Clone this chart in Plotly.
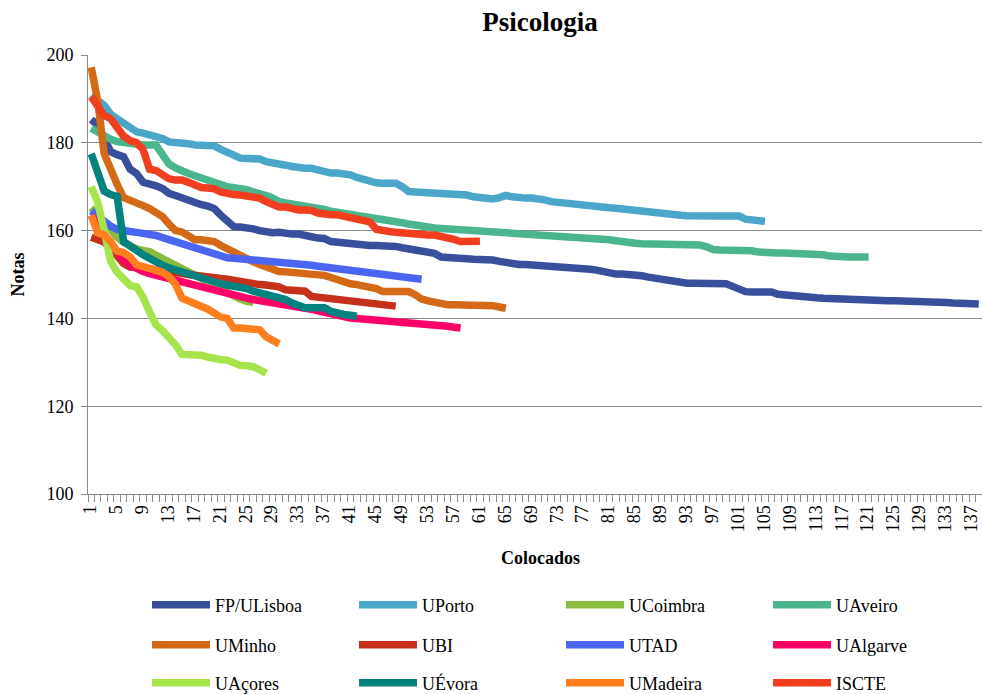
import plotly.graph_objects as go

FONT = "Liberation Serif"

series_names = ["FP/ULisboa", "UPorto", "UCoimbra", "UAveiro",
                "UMinho", "UBI", "UTAD", "UAlgarve",
                "UAçores", "UÉvora", "UMadeira", "ISCTE"]

series_colors = ["#3A4F9C", "#4BA7C9", "#88BB3E", "#4BB68D",
                 "#D46A17", "#C6311B", "#4A66F0", "#FF0068",
                 "#A6E44C", "#00827F", "#FF7F1E", "#F03E1E"]

fp_ulisboa = [185.3, 184.0, 181.0, 178.0, 177.3, 176.8, 174.0, 173.0, 171.0, 170.7,
              170.2, 169.6, 168.5, 168.0, 167.4, 166.7, 166.2, 165.9, 165.6, 165.0,
              163.5, 162.2, 160.9, 160.8, 160.8, 160.4, 160.0, 159.7, 159.5, 159.6,
              159.3, 159.2, 159.2, 159.1, 158.6, 158.3, 158.2, 157.5, 157.3, 157.2,
              157.1, 157.0, 156.8, 156.6, 156.6, 156.6, 156.5, 156.4, 156.1, 155.9,
              155.7, 155.5, 155.2, 154.8, 154.0, 153.8, 153.7, 153.6, 153.6, 153.5,
              153.5, 153.4, 153.3, 153.0, 152.7, 152.4, 152.3, 152.3, 152.2, 152.2,
              152.2, 152.1, 152.0, 151.9, 151.8, 151.8, 151.7, 151.2, 151.0, 150.7,
              150.1, 150.1, 150.1, 150.1, 150.0, 149.7, 149.4, 149.1, 148.9, 148.6,
              148.4, 148.2, 148.0, 148.0, 148.0, 148.0, 148.0, 148.0, 147.9, 147.3,
              146.7, 146.1, 146.0, 146.0, 146.0, 146.0, 145.5, 145.3, 145.3, 145.3,
              145.1, 144.9, 144.7, 144.6, 144.5, 144.5, 144.4, 144.3, 144.3, 144.2,
              144.2, 144.1, 144.1, 144.0, 144.0, 144.0, 143.9, 143.9, 143.9, 143.8,
              143.8, 143.7, 143.6, 143.5, 143.4, 143.3, 143.3, 143.3]

uporto = [190.8, 189.8, 188.5, 186.5, 185.5, 184.8, 183.5, 182.5, 182.2, 181.8,
          181.7, 181.0, 180.2, 180.2, 180.2, 179.8, 179.5, 179.5, 179.5, 179.3,
          178.5, 178.0, 177.2, 176.5, 176.5, 176.5, 176.3, 175.7, 175.3, 175.2,
          174.9, 174.6, 174.3, 174.2, 174.2, 173.8, 173.4, 173.1, 173.1, 173.1,
          172.7, 172.1, 171.6, 171.3, 170.9, 170.8, 170.8, 170.8, 170.0, 168.9,
          168.8, 168.7, 168.6, 168.6, 168.6, 168.6, 168.6, 168.5, 168.1, 167.7,
          167.5, 167.3, 167.2, 167.5, 168.0, 167.7, 167.4, 167.4, 167.4, 167.4,
          167.0, 166.6, 166.4, 166.3, 166.1, 166.0, 165.8, 165.7, 165.5, 165.4,
          165.2, 165.1, 164.9, 164.8, 164.6, 164.5, 164.3, 164.2, 164.0, 163.9,
          163.7, 163.5, 163.4, 163.3, 163.3, 163.3, 163.3, 163.3, 163.3, 163.3,
          163.3, 162.6, 162.4, 162.5, 162.1]

ucoimbra = [165.2, 163.5, 161.5, 160.0, 158.5, 157.3, 156.4, 155.8, 155.5, 155.2,
            154.4, 153.7, 153.0, 152.3, 151.6, 150.8, 150.0, 149.1, 148.2, 147.4,
            146.5, 145.7, 145.0, 144.4, 143.9, 143.7]

uaveiro = [183.3, 182.3, 181.3, 180.8, 180.3, 180.0, 179.8, 179.5, 179.5, 179.5,
           179.5, 177.3, 175.2, 174.3, 173.5, 173.0, 172.5, 172.1, 171.6, 171.1,
           170.5, 170.0, 169.8, 169.7, 169.3, 168.8, 168.6, 168.0, 167.4, 166.6,
           166.3, 166.1, 165.9, 165.6, 165.4, 165.1, 164.8, 164.4, 164.2, 164.0,
           163.8, 163.6, 163.4, 163.2, 162.9, 162.6, 162.3, 162.0, 161.8, 161.5,
           161.2, 161.0, 160.8, 160.6, 160.5, 160.4, 160.3, 160.2, 160.1, 160.0,
           159.9, 159.8, 159.8, 159.7, 159.6, 159.6, 159.5, 159.5, 159.4, 159.4,
           159.3, 159.2, 159.1, 159.0, 158.9, 158.8, 158.7, 158.6, 158.4, 158.2,
           157.9, 157.7, 157.4, 157.2, 157.1, 157.0, 157.0, 157.0, 156.9, 156.9,
           156.9, 156.8, 156.8, 156.7, 156.7, 156.3, 155.7, 155.6, 155.6, 155.6,
           155.6, 155.6, 155.4, 155.1, 154.9, 154.9, 154.9, 154.9, 154.9, 154.9,
           154.9, 154.9, 154.7, 154.5, 154.2, 154.0, 154.0, 154.0, 154.0, 154.0,
           154.0]

uminho = [197.2, 189.5, 177.5, 173.5, 170.5, 167.5, 167.0, 166.3, 165.7, 165.0,
          164.3, 163.2, 161.5, 160.0, 159.7, 159.0, 157.9, 157.9, 157.9, 157.5,
          156.6, 155.8, 155.1, 154.4, 153.6, 152.9, 152.3, 151.7, 151.2, 150.7,
          150.6, 150.5, 150.3, 150.1, 150.0, 150.0, 149.8, 149.3, 148.7, 148.2,
          147.9, 147.7, 147.5, 147.3, 146.8, 146.1, 146.1, 146.1, 146.1, 146.1,
          145.4, 144.4, 144.0, 143.6, 143.1, 143.1, 143.1, 143.1, 143.1, 143.1,
          143.1, 143.1, 142.9, 142.6, 142.3]

ubi = [158.5, 158.0, 157.4, 156.0, 154.2, 152.5, 151.7, 151.7, 151.6, 151.3,
       151.0, 150.7, 150.5, 150.3, 150.2, 150.0, 149.9, 149.7, 149.5, 149.3,
       149.1, 148.9, 148.6, 148.4, 148.1, 147.9, 147.7, 147.6, 147.6, 147.2,
       146.5, 146.5, 146.5, 146.2, 145.0, 144.8, 144.7, 144.6, 144.4, 144.2,
       144.0, 143.8, 143.6, 143.4, 143.2, 143.0, 142.9, 142.8]

utad = [164.5, 163.2, 162.0, 161.0, 160.3, 159.9, 159.8, 159.6, 159.5, 159.3,
        158.9, 158.4, 157.9, 157.5, 157.2, 156.7, 156.2, 155.6, 155.0, 154.5,
        154.1, 153.8, 153.7, 153.6, 153.5, 153.4, 153.2, 153.0, 152.9, 152.8,
        152.7, 152.6, 152.5, 152.3, 152.1, 151.9, 151.7, 151.5, 151.2, 151.0,
        150.8, 150.5, 150.3, 150.1, 149.9, 149.7, 149.5, 149.4, 149.3, 149.1,
        149.0, 148.9]

ualgarve = [163.5, 161.0, 159.0, 157.0, 155.0, 153.5, 152.2, 151.3, 150.7, 150.2,
            149.8, 149.4, 149.0, 148.8, 148.5, 148.2, 147.8, 147.3, 146.9, 146.4,
            145.8, 145.4, 145.1, 144.9, 144.6, 144.3, 144.1, 143.8, 143.5, 143.2,
            143.1, 143.1, 142.9, 142.5, 142.1, 141.7, 141.4, 141.0, 140.4, 140.2,
            140.1, 140.0, 139.9, 139.8, 139.7, 139.6, 139.4, 139.3, 139.2, 139.0,
            138.9, 138.8, 138.7, 138.5, 138.4, 138.2, 138.0, 137.8]

uacores = [170.0, 166.5, 160.0, 153.0, 150.5, 148.7, 147.5, 147.2, 144.8, 141.5,
           138.5, 137.2, 135.8, 134.0, 131.8, 131.8, 131.8, 131.6, 131.2, 130.8,
           130.6, 130.5, 129.9, 129.3, 129.2, 129.0, 128.3, 127.5]

uevora = [177.5, 173.5, 169.0, 168.2, 167.8, 157.5, 156.3, 155.5, 154.5, 153.6,
          152.8, 152.1, 151.5, 151.0, 150.6, 150.2, 149.6, 149.1, 148.6, 148.2,
          147.9, 147.6, 147.4, 147.2, 146.8, 146.2, 145.9, 145.6, 145.3, 144.9,
          144.3, 143.5, 142.8, 142.4, 142.4, 142.4, 142.4, 141.6, 141.1, 140.9,
          140.7, 140.5]

umadeira = [163.5, 159.5, 159.0, 157.5, 155.3, 155.0, 154.0, 152.2, 151.8, 151.5,
            151.0, 150.5, 149.5, 147.8, 144.6, 144.0, 143.5, 142.8, 142.1, 141.2,
            140.3, 140.0, 137.8, 137.8, 137.8, 137.8, 137.4, 135.8, 134.8, 134.2]

iscte = [190.5, 188.0, 186.2, 185.5, 183.8, 181.5, 180.5, 180.0, 178.5, 174.0,
         173.7, 172.8, 171.8, 171.5, 171.5, 171.0, 170.2, 169.8, 169.7, 169.5,
         168.8, 168.3, 168.2, 168.1, 168.0, 167.7, 167.4, 166.6, 166.0, 165.4,
         165.4, 165.0, 164.7, 164.7, 164.6, 164.0, 163.6, 163.6, 163.6, 163.3,
         163.0, 162.9, 162.7, 162.0, 160.3, 159.9, 159.8, 159.6, 159.4, 159.2,
         159.0, 159.0, 159.0, 159.0, 158.8, 158.4, 158.0, 157.5, 157.5, 157.6,
         157.6]

series_values = [fp_ulisboa, uporto, ucoimbra, uaveiro,
                 uminho, ubi, utad, ualgarve,
                 uacores, uevora, umadeira, iscte]

x_tick_values = [1, 5, 9, 13, 17, 21, 25, 29, 33, 37, 41, 45, 49, 53, 57, 61, 65,
                 69, 73, 77, 81, 85, 89, 93, 97, 101, 105, 109, 113, 117, 121, 125,
                 129, 133, 137]
x_tick_labels = ["1", "5", "9", "13", "17", "21", "25", "29", "33", "37", "41", "45",
                 "49", "53", "57", "61", "65", "69", "73", "77", "81", "85", "89",
                 "93", "97", "101", "105", "109", "113", "117", "121", "125", "129",
                 "133", "137"]
n_categories = 138

y_tick_values = [100, 120, 140, 160, 180, 200]

fig = go.Figure()
legend_ids = ["legend", "legend2", "legend3"]
for k, (name, color, vals) in enumerate(zip(series_names, series_colors, series_values)):
    fig.add_trace(go.Scatter(
        x=list(range(1, len(vals) + 1)),
        y=vals,
        mode="lines",
        name=name,
        line=dict(color=color, width=7.5),
        legend=legend_ids[k // 4],
        hoverinfo="skip",
    ))

GRID = "#8a8a8a"

legend_common = dict(
    orientation="h",
    font=dict(family=FONT, size=18, color="#000000"),
    entrywidth=134,
    entrywidthmode="pixels",
    itemwidth=58,
    xanchor="left",
    yanchor="middle",
    bgcolor="rgba(0,0,0,0)",
    x=0.066,
)

fig.update_layout(
    width=982,
    height=694,
    paper_bgcolor="white",
    plot_bgcolor="white",
    margin=dict(l=88, r=0, t=55, b=200, autoexpand=False),
    title=dict(text="<b>Psicologia</b>", x=540 / 982, xref="container", xanchor="center",
               y=1 - 22 / 694, yref="container", yanchor="middle",
               font=dict(family=FONT, size=27, color="#000000")),
    font=dict(family=FONT, size=18, color="#000000"),
    xaxis=dict(
        range=[0.5, n_categories + 0.5],
        tickmode="array",
        tickvals=x_tick_values,
        ticktext=x_tick_labels,
        tickangle=-90,
        ticks="",
        ticklabelshift=-1,
        ticklabelstandoff=3,
        ticklabeloverflow="allow",
        tickfont=dict(family=FONT, size=18, color="#000000"),
        showgrid=False,
        zeroline=False,
        showline=True,
        linecolor=GRID,
        linewidth=1,
        automargin=False,
        minor=dict(ticks="outside", dtick=1, tick0=0.5, ticklen=7, tickcolor=GRID,
                   tickwidth=1, showgrid=False),
    ),
    yaxis=dict(
        range=[100, 200],
        tickmode="array",
        tickvals=y_tick_values,
        ticks="outside",
        ticklen=6,
        tickcolor=GRID,
        ticklabelstandoff=4,
        tickfont=dict(family=FONT, size=18, color="#000000"),
        showgrid=True,
        gridcolor=GRID,
        gridwidth=1,
        zeroline=False,
        showline=True,
        linecolor=GRID,
        linewidth=1,
        automargin=False,
    ),
    legend=dict(legend_common, y=(494 - 605) / 439),
    legend2=dict(legend_common, y=(494 - 645) / 439),
    legend3=dict(legend_common, y=(494 - 683) / 439),
    annotations=[
        dict(text="<b>Notas</b>", xref="paper", yref="paper",
             x=(17 - 88) / 894, y=0.5, textangle=-90, showarrow=False,
             xanchor="center", yanchor="middle",
             font=dict(family=FONT, size=18, color="#000000")),
        dict(text="<b>Colocados</b>", xref="paper", yref="paper",
             x=(540 - 88) / 894, y=(494 - 558) / 439, showarrow=False,
             xanchor="center", yanchor="middle",
             font=dict(family=FONT, size=18, color="#000000")),
    ],
)

fig.write_html(
    "out.html",
    config={"displayModeBar": False},
    post_script="document.body.style.margin='0px';document.body.style.overflow='hidden';",
)
